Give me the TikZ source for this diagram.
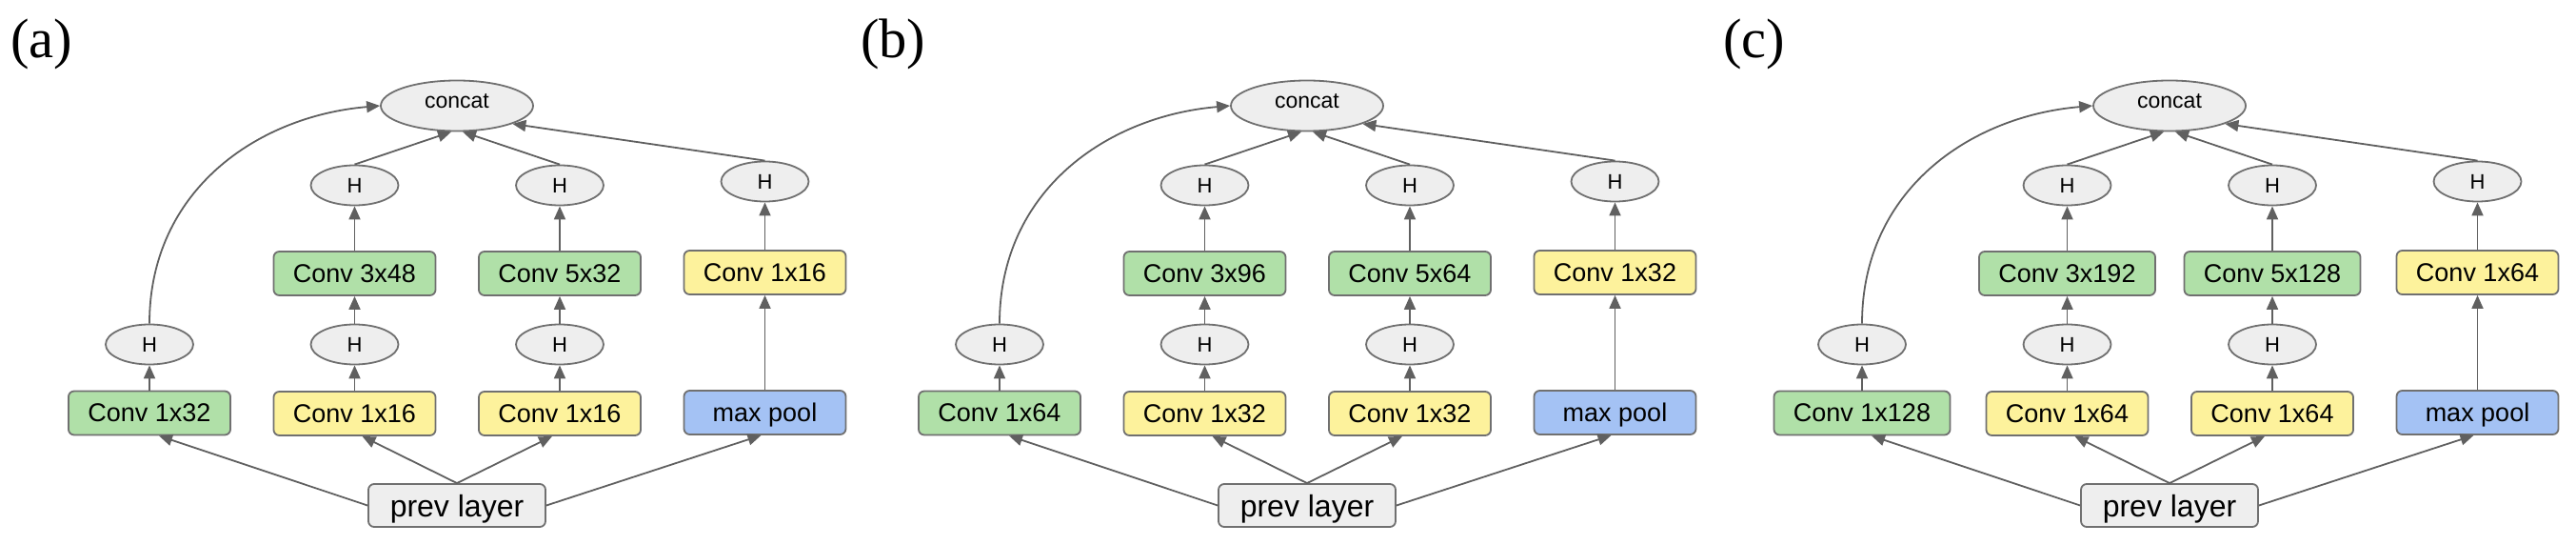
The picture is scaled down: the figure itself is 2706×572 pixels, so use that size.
\documentclass[tikz,border=0pt]{standalone}
\usepackage{fontspec}
\setmainfont{Liberation Serif}
\setsansfont{Liberation Sans}
\usetikzlibrary{arrows.meta,shapes.geometric}
\definecolor{gfill}{HTML}{B0E0A8}
\definecolor{yfill}{HTML}{FDF29C}
\definecolor{bfill}{HTML}{A4C2F4}
\definecolor{efill}{HTML}{EEEEEE}
\definecolor{edgec}{HTML}{707070}
\definecolor{arrc}{HTML}{606060}
\tikzset{
  boxsty/.style={draw=edgec, line width=1.8pt, rounded corners=6pt, minimum width=170pt,
    minimum height=46pt, inner xsep=20.5pt, inner ysep=0pt, text depth=0pt,
    font=\sffamily\fontsize{27}{32}\selectfont},
  gbox/.style={boxsty, fill=gfill},
  ybox/.style={boxsty, fill=yfill},
  bbox/.style={boxsty, fill=bfill},
  prevsty/.style={boxsty, fill=efill, minimum width=186pt, minimum height=45pt,
    font=\sffamily\fontsize{32}{38}\selectfont},
  ell/.style={draw=edgec, line width=1.8pt, fill=efill, ellipse, minimum width=92pt,
    minimum height=42pt, inner sep=0pt, text depth=0pt,
    font=\sffamily\fontsize{22}{26}\selectfont},
  concatsty/.style={minimum width=160pt, minimum height=53pt, text height=0.52em,
    font=\sffamily\fontsize{23}{28}\selectfont},
  lab/.style={anchor=base west, inner sep=0pt, font=\fontsize{58.5}{66}\selectfont},
  conn/.style={draw=arrc, line width=1.8pt, -{Triangle[length=14pt,width=12pt]}},
}
% #1 prefix, #2 xshift, #3 label, #4 col1 bottom, #5 col2/col3 bottom,
% #6 col2 middle, #7 col3 middle, #8 col4 middle
\newcommand\incpanel[8]{%
\begin{scope}[xshift=#2pt]
  \node[lab] (#1lab) at (11,61) {(#3)};
  \node[ell,concatsty] (#1cc) at (480,111) {concat};
  \node[ell] (#1ht2) at (372.5,194.5) {H};
  \node[ell] (#1ht3) at (588,194.5) {H};
  \node[ell] (#1ht4) at (803.5,190.5) {H};
  \node[gbox] (#1m2) at (372.5,287) {#6};
  \node[gbox] (#1m3) at (588,287) {#7};
  \node[ybox] (#1m4) at (803.5,286) {#8};
  \node[ell] (#1hb1) at (157,361.5) {H};
  \node[ell] (#1hb2) at (372.5,361.5) {H};
  \node[ell] (#1hb3) at (588,361.5) {H};
  \node[gbox] (#1b1) at (157,433.5) {#4};
  \node[ybox] (#1b2) at (372.5,434) {#5};
  \node[ybox] (#1b3) at (588,434) {#5};
  \node[bbox] (#1b4) at (803.5,433) {max pool};
  \node[prevsty] (#1pv) at (480,530.5) {prev layer};
  % bottom fan-out
  \draw[conn] (#1pv.west) -- ([xshift=10pt]#1b1.south);
  \draw[conn] (#1pv.north) -- ([xshift=8pt]#1b2.south);
  \draw[conn] (#1pv.north) -- ([xshift=-8pt]#1b3.south);
  \draw[conn] (#1pv.east) -- ([xshift=-4pt]#1b4.south);
  % columns
  \draw[conn] (#1b1.north) -- (#1hb1.south);
  \draw[conn] (#1b2.north) -- (#1hb2.south);
  \draw[conn] (#1b3.north) -- (#1hb3.south);
  \draw[conn] (#1b4.north) -- (#1m4.south);
  \draw[conn] (#1hb2.north) -- (#1m2.south);
  \draw[conn] (#1hb3.north) -- (#1m3.south);
  \draw[conn] (#1m2.north) -- (#1ht2.south);
  \draw[conn] (#1m3.north) -- (#1ht3.south);
  \draw[conn] (#1m4.north) -- (#1ht4.south);
  % into concat
  \draw[conn] (#1hb1.north) .. controls (157,200) and (270,122) .. (#1cc.west);
  \draw[conn] (#1ht2.north) -- ([xshift=-6pt]#1cc.south);
  \draw[conn] (#1ht3.north) -- ([xshift=6pt]#1cc.south);
  \draw[conn] (#1ht4.north) -- (#1cc.-18);
\end{scope}}
\begin{document}
\begin{tikzpicture}[x=1pt,y=-1pt]
  \useasboundingbox (0,0) rectangle (2706,572);
  \incpanel{a}{0}{a}{Conv 1x32}{Conv 1x16}{Conv 3x48}{Conv 5x32}{Conv 1x16}
  \incpanel{b}{893}{b}{Conv 1x64}{Conv 1x32}{Conv 3x96}{Conv 5x64}{Conv 1x32}
  \incpanel{c}{1799}{c}{Conv 1x128}{Conv 1x64}{Conv 3x192}{Conv 5x128}{Conv 1x64}
\end{tikzpicture}
\end{document}
